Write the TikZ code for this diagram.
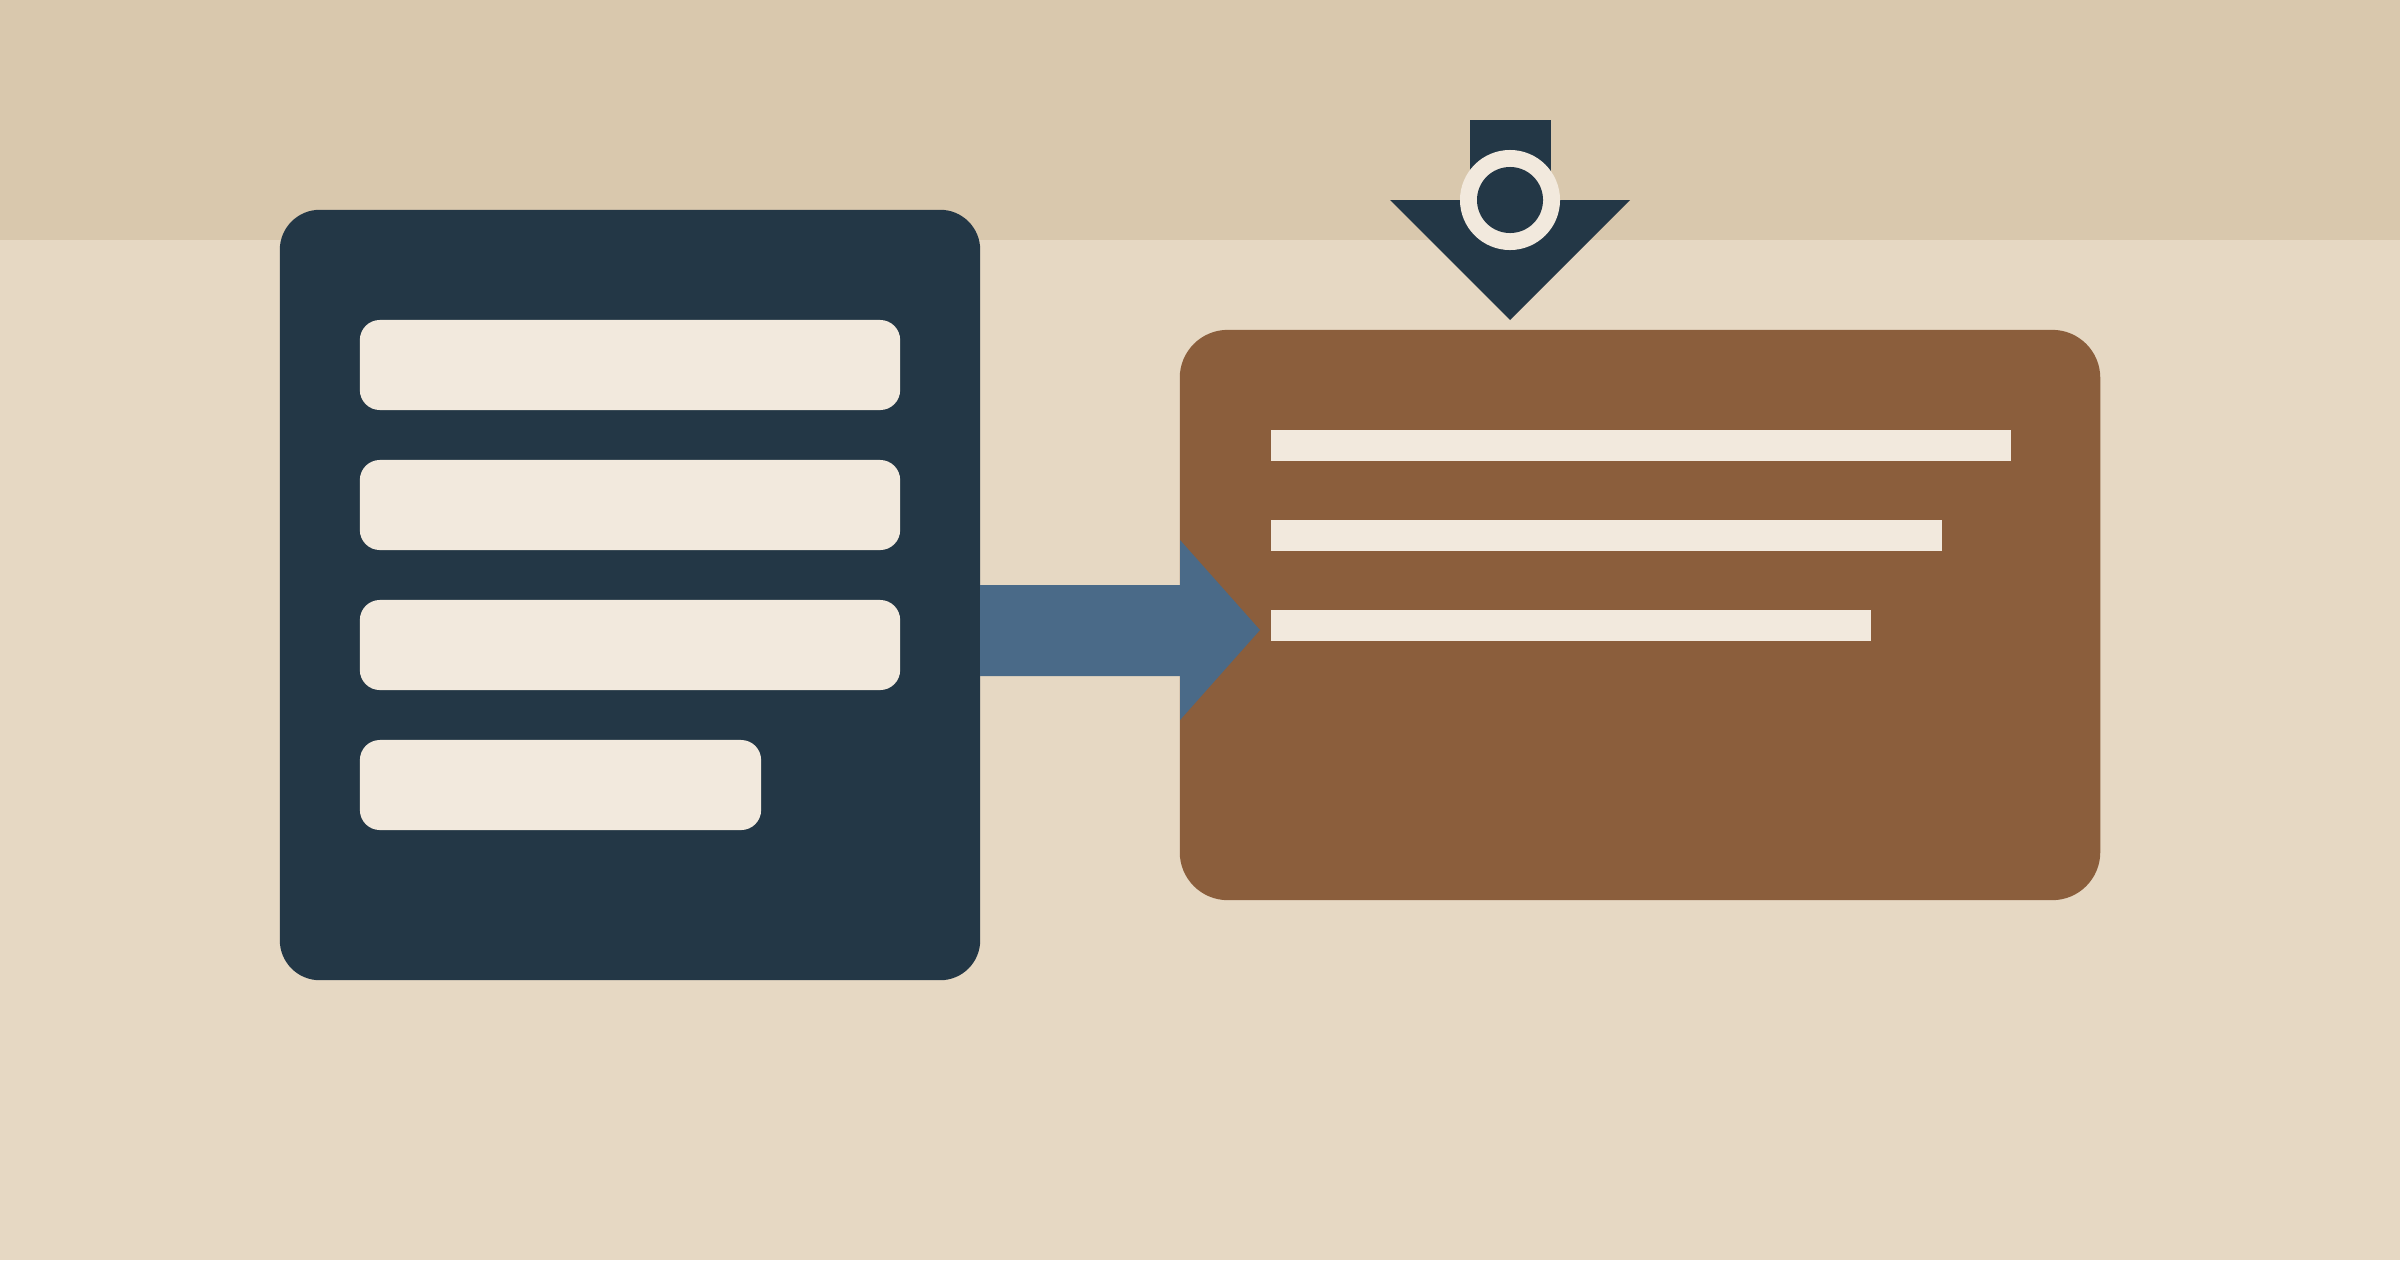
\documentclass[tikz,border=0pt]{standalone}
\usetikzlibrary{positioning}

\definecolor{bandtop}{HTML}{D9C8AD}
\definecolor{paper}{HTML}{E6D8C3}
\definecolor{navy}{HTML}{233746}
\definecolor{cream}{HTML}{F2E9DD}
\definecolor{rust}{HTML}{8B5E3C}
\definecolor{steel}{HTML}{4A6A88}

\begin{document}
\begin{tikzpicture}[x=0.01cm,y=-0.01cm,
    panel/.style={fill=navy,rounded corners=0.4cm,inner sep=0},
    card/.style={fill=rust,rounded corners=0.48cm,inner sep=0},
    field/.style={fill=cream,rounded corners=0.2cm,minimum height=0.9cm,inner sep=0},
    textline/.style={fill=cream,minimum height=0.31cm,inner sep=0,anchor=west},
    flow/.style={fill=steel}]
        % background
        \fill[paper] (0,0) rectangle (2400,1260);
        \fill[bandtop] (0,0) rectangle (2400,240);
        \useasboundingbox (0,0) rectangle (2400,1260);

        % form and document
        \node[panel, minimum width=7cm, minimum height=7.7cm] at (630, 595) (form) {};
        \node[card, minimum width=9.2cm, minimum height=5.7cm] at (1640, 615) (doc) {};

        \node[field, minimum width=5.4cm] at (630, 365) (f1) {};
        \node[field, minimum width=5.4cm] at (630, 505) (f2) {};
        \node[field, minimum width=5.4cm] at (630, 645) (f3) {};
        \node[field, minimum width=4.01cm] at (560.5, 785) (f4) {};

        % arrow
        \coordinate (tail) at (980, 630);
        \coordinate (tip) at (1260, 630);
        \fill[flow] (tail) ++(0,-45) -- ++(200,0) -- ++(0,-45) -- (tip)
            -- ++(-80,90) -- ++(0,-44) -- ++(-200,0) -- cycle;

        \node[textline, minimum width=7.4cm] at (1270, 445) (l1) {};
        \node[textline, minimum width=6.71cm] at (1270, 535) (l2) {};
        \node[textline, minimum width=6.0cm] at (1270, 625) (l3) {};

        % download mark
        \fill[navy] (1470,120) rectangle (1551,200);
        \fill[navy] (1390,200) -- (1630,200) -- (1510,320) -- cycle;
        \node[circle, fill=cream, minimum size=1cm, inner sep=0] at (1510, 200) (ring) {};
        \node[circle, fill=navy, minimum size=0.66cm, inner sep=0] at (ring) (dot) {};
    \end{tikzpicture}
\end{document}
